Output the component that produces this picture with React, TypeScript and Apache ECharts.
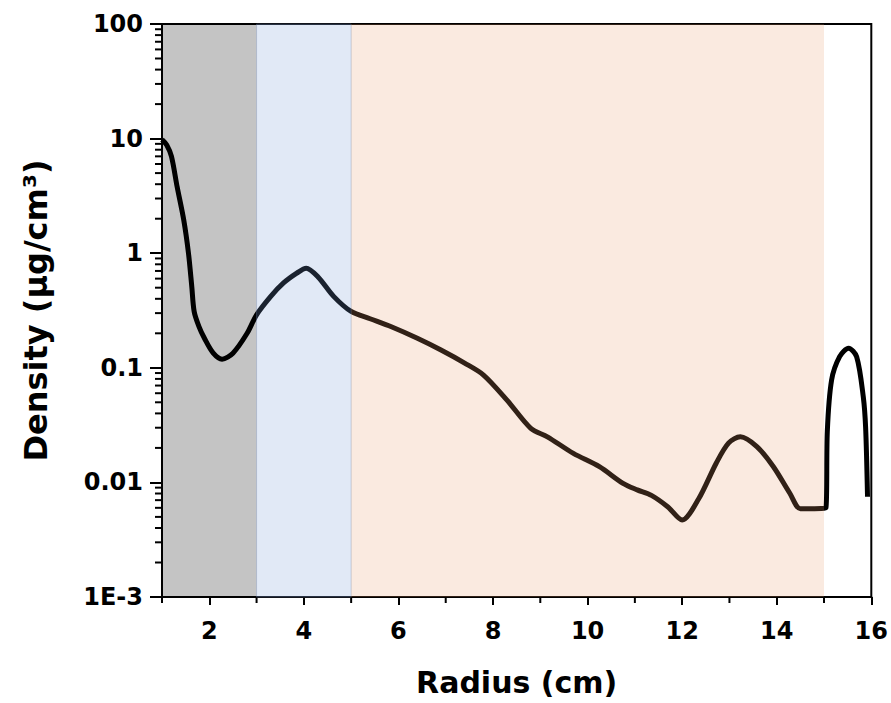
import React, { useEffect, useRef } from "react";
import * as echarts from "echarts";

// Curve: radius (cm) vs density (µg/cm³)
const radius = [
  1.0, 1.1, 1.2, 1.32, 1.46, 1.56, 1.63, 1.68, 1.78, 1.9, 2.08, 2.27, 2.5, 2.8,
  3.0, 3.3, 3.57, 3.85, 4.05, 4.3, 4.63, 5.0, 5.4, 5.85, 6.4, 6.9, 7.4, 7.8,
  8.3, 8.8, 9.15, 9.7, 10.25, 10.75, 11.05, 11.35, 11.7, 12.0, 12.35, 12.72,
  12.98, 13.23, 13.58, 13.93, 14.28, 14.5, 14.8, 15.04, 15.07, 15.16, 15.33,
  15.52, 15.69, 15.83, 15.88, 15.92,
];
const density = [
  9.8, 8.8, 7.0, 3.8, 1.95, 1.0, 0.51, 0.31, 0.23, 0.18, 0.135, 0.119, 0.134,
  0.2, 0.29, 0.42, 0.55, 0.67, 0.74, 0.62, 0.42, 0.31, 0.268, 0.228, 0.181,
  0.143, 0.11, 0.0865, 0.052, 0.0296, 0.025, 0.0179, 0.0137, 0.0098, 0.0086,
  0.0077, 0.0061, 0.0047, 0.0072, 0.0147, 0.022, 0.025, 0.0205, 0.0137, 0.008,
  0.0059, 0.0059, 0.006, 0.028, 0.078, 0.125, 0.148, 0.125, 0.056, 0.03,
  0.0075,
];

// Shaded regions (x ranges)
const regionStart = [1, 3, 5];
const regionEnd = [3, 5, 15];
const regionColor = [
  "rgba(0,0,0,0.23)",
  "rgba(120,155,215,0.22)",
  "rgba(232,155,110,0.21)",
];

// Axis ticks / labels
const xMajorTicks = [2, 4, 6, 8, 10, 12, 14, 16];
const xMinorTicks = [1, 3, 5, 7, 9, 11, 13, 15];
const yTickLabels = ["1E-3", "0.01", "0.1", "1", "10", "100"];
const yDecades = [0.001, 0.01, 0.1, 1, 10];
const yMinorMultipliers = [2, 3, 4, 5, 6, 7, 8, 9];

const FONT = "DejaVu Sans";

export default function App() {
  const ref = useRef<HTMLDivElement>(null);

  useEffect(() => {
    if (!ref.current) return;
    const chart = echarts.init(ref.current, undefined, { renderer: "svg" });

    const lineData = radius.map((r, i) => [r, density[i]]);
    const minorData: number[][] = [];
    yDecades.forEach((d) =>
      yMinorMultipliers.forEach((m) => minorData.push([1, m * d, 0]))
    );
    xMinorTicks.forEach((x) => minorData.push([x, 0.001, 1]));

    const option: any = {
      animation: false,
      backgroundColor: "#fff",
      grid: {
        left: 162,
        right: 19,
        top: 24,
        bottom: 106,
        show: true,
        borderColor: "#000",
        borderWidth: 2,
        backgroundColor: "transparent",
      },
      xAxis: {
        type: "value",
        min: 1,
        max: 16,
        name: "Radius (cm)",
        nameLocation: "middle",
        nameGap: 70,
        nameTextStyle: {
          fontFamily: FONT,
          fontWeight: "bold",
          fontSize: 30,
          color: "#000",
        },
        axisLine: { show: true, lineStyle: { color: "#000", width: 2 } },
        axisTick: {
          show: true,
          length: 8,
          customValues: xMajorTicks,
          lineStyle: { color: "#000", width: 2 },
        },
        axisLabel: {
          customValues: xMajorTicks,
          margin: 22,
          fontFamily: FONT,
          fontWeight: "bold",
          fontSize: 24,
          color: "#000",
        },
        splitLine: { show: false },
      },
      yAxis: {
        type: "log",
        logBase: 10,
        min: 0.001,
        max: 100,
        name: "Density (μg/cm³)",
        nameLocation: "middle",
        nameGap: 110,
        nameTextStyle: {
          fontFamily: FONT,
          fontWeight: "bold",
          fontSize: 32,
          color: "#000",
        },
        axisLine: { show: true, lineStyle: { color: "#000", width: 2 } },
        axisTick: {
          show: true,
          length: 12,
          lineStyle: { color: "#000", width: 2 },
        },
        axisLabel: {
          margin: 19,
          fontFamily: FONT,
          fontWeight: "bold",
          fontSize: 24,
          color: "#000",
          formatter: (v: number) => {
            const i = Math.round(Math.log10(v)) + 3;
            return yTickLabels[i] ?? "";
          },
        },
        splitLine: { show: false },
      },
      series: [
        {
          type: "line",
          data: lineData,
          showSymbol: false,
          smooth: 0.3,
          z: 2,
          lineStyle: { color: "#000", width: 5 },
        },
        {
          type: "custom",
          silent: true,
          clip: false,
          z: 3,
          data: minorData,
          encode: { x: 0, y: 1 },
          renderItem: (_p: any, api: any) => {
            const pt = api.coord([api.value(0), api.value(1)]);
            const kind = api.value(2);
            if (kind === 0) {
              return {
                type: "line",
                shape: { x1: pt[0] - 7, y1: pt[1], x2: pt[0], y2: pt[1] },
                style: { stroke: "#000", lineWidth: 2 },
              };
            }
            return {
              type: "line",
              shape: { x1: pt[0], y1: pt[1], x2: pt[0], y2: pt[1] + 6 },
              style: { stroke: "#000", lineWidth: 2 },
            };
          },
        },
        {
          type: "line",
          data: [],
          z: 10,
          silent: true,
          markArea: {
            silent: true,
            z: 10,
            data: regionStart.map((s, i) => [
              {
                xAxis: s,
                itemStyle: {
                  color: regionColor[i],
                  borderColor: i === 1 ? "rgba(110,130,170,0.35)" : "transparent",
                  borderWidth: i === 1 ? 1 : 0,
                },
              },
              { xAxis: regionEnd[i] },
            ]),
          },
        },
      ],
    };

    chart.setOption(option);
    return () => chart.dispose();
  }, []);

  return (
    <div
      ref={ref}
      style={{ position: "fixed", left: 0, top: 0, width: 891, height: 703 }}
    />
  );
}
